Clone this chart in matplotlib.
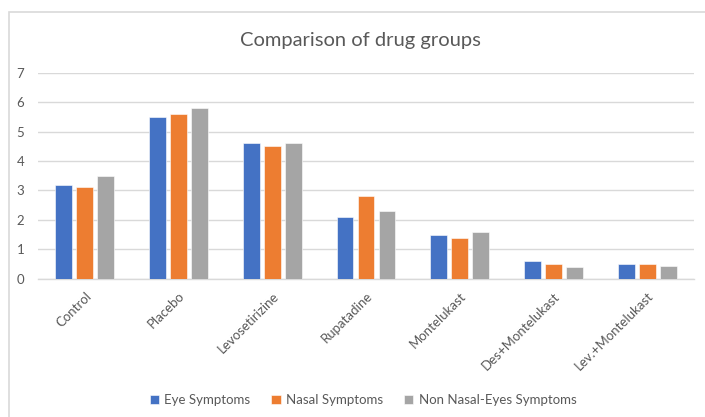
import numpy as np
import matplotlib.pyplot as plt
from matplotlib.patches import Rectangle

groups = ['Control', 'Placebo', 'Levosetirizine', 'Rupatadine', 'Montelukast',
          'Des+Montelukast', 'Lev.+Montelukast']
eye = [3.2, 5.5, 4.6, 2.1, 1.5, 0.6, 0.5]
nasal = [3.1, 5.6, 4.5, 2.8, 1.4, 0.5, 0.5]
non_nasal_eyes = [3.5, 5.8, 4.6, 2.3, 1.6, 0.4, 0.43]

series = [
    ('Eye Symptoms', eye, '#4472C4'),
    ('Nasal Symptoms', nasal, '#ED7D31'),
    ('Non Nasal-Eyes Symptoms', non_nasal_eyes, '#A5A5A5'),
]

plt.rcParams['font.family'] = ['Lato', 'DejaVu Sans']

fig = plt.figure(figsize=(7.05, 4.17), dpi=100)
ax = fig.add_axes([38 / 705, 138.3 / 417, 656 / 705, 206 / 417])

# chart border
fig.patches.append(Rectangle((8.5 / 705, -0.1), 1.1, (417 - 12.5) / 417 + 0.1,
                             transform=fig.transFigure, fill=False,
                             edgecolor='#d9d9d9', linewidth=1.2))

x = np.arange(len(groups))
width = 0.18
step = 0.224
handles = []
for i, (name, vals, color) in enumerate(series):
    b = ax.bar(x + (i - 1) * step, vals, width, color=color, label=name,
               edgecolor='white', linewidth=0.4, zorder=3)
    handles.append(b)

ax.set_xlim(-0.5, len(groups) - 0.5)
ax.set_ylim(0, 7)
ax.set_yticks(range(8))
ax.grid(axis='y', color='#d9d9d9', linewidth=1.0, zorder=0)
for s in ['top', 'right', 'left']:
    ax.spines[s].set_visible(False)
ax.spines['bottom'].set_color('#d9d9d9')
ax.spines['bottom'].set_linewidth(1.0)
ax.tick_params(axis='both', length=0, colors='#595959', labelsize=9.5)
ax.tick_params(axis='y', pad=10)
ax.set_xticks(x)
ax.set_xticklabels(groups, rotation=45, ha='right', rotation_mode='anchor')
ax.tick_params(axis='x', pad=8)

fig.text(0.511, 0.903, 'Comparison of drug groups', ha='center', va='center',
         fontsize=14.5, color='#595959')

fig.legend(handles=handles, loc='center', bbox_to_anchor=(0.515, 0.04),
           ncol=3, frameon=False, fontsize=9.5, labelcolor='#595959',
           handlelength=0.7, handleheight=0.7, handletextpad=0.4,
           columnspacing=1.6)

fig.savefig('out.png', dpi=100)
